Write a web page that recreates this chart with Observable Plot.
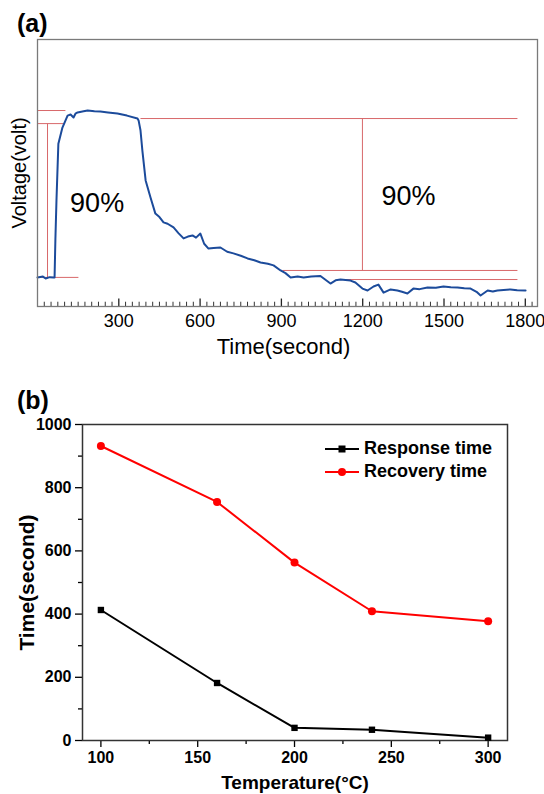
<!DOCTYPE html>
<html><head><meta charset="utf-8">
<script src="https://cdn.jsdelivr.net/npm/d3@7"></script>
<script src="https://cdn.jsdelivr.net/npm/@observablehq/plot@0.6"></script>
<style>
body{margin:0;background:#fff;font-family:"Liberation Sans",Arial,sans-serif;}
#fig{position:relative;width:544px;height:794px;overflow:hidden;background:#fff;}
.panel{position:absolute;left:0;}
.tag{position:absolute;font-weight:bold;font-size:25px;line-height:25px;color:#000;}
#legend{position:absolute;left:325px;top:437px;font-weight:bold;font-size:18px;color:#000;}
#legend .row{display:flex;align-items:center;height:23px;}
#legend svg{display:block;margin-right:5px;}
</style></head><body>
<div id="fig">
  <div id="pa" class="panel" style="top:0px"></div>
  <div id="pb" class="panel" style="top:380px"></div>
  <div class="tag" style="left:17px;top:11px">(a)</div>
  <div class="tag" style="left:17px;top:388px">(b)</div>
  <div id="legend"></div>
</div>
<script>
// ---------- Panel (a): voltage transient ----------
const timeS = [0,20,30,45,59,63,66,70,77,92,111,122,133,140,148,170,185,210,232,260,295,330,369,373,380,387,399,417,435,450,465,480,502,520,539,555,572,585,601,615,631,650,675,700,723,750,775,800,823,850,871,897,915,934,960,982,1010,1044,1081,1100,1118,1155,1173,1199,1218,1240,1258,1277,1303,1328,1345,1365,1387,1410,1439,1470,1498,1525,1550,1575,1598,1620,1635,1661,1680,1697,1720,1745,1770,1801];
const voltV = [0.109,0.112,0.105,0.110,0.109,0.109,0.250,0.397,0.610,0.670,0.715,0.719,0.708,0.722,0.727,0.731,0.734,0.731,0.730,0.727,0.723,0.715,0.704,0.697,0.660,0.584,0.472,0.408,0.348,0.335,0.315,0.310,0.296,0.275,0.255,0.262,0.266,0.258,0.273,0.235,0.217,0.219,0.221,0.205,0.199,0.190,0.180,0.173,0.165,0.160,0.154,0.135,0.125,0.109,0.112,0.109,0.112,0.114,0.086,0.098,0.101,0.097,0.090,0.067,0.060,0.075,0.082,0.052,0.064,0.060,0.055,0.049,0.067,0.065,0.071,0.070,0.075,0.072,0.071,0.068,0.067,0.055,0.041,0.060,0.056,0.060,0.062,0.064,0.061,0.060];
const xTicksA = [300,600,900,1200,1500,1800];
const pctLabelT = [220,1369];
const pctLabelV = [0.388,0.412];
const pctText = ["90%","90%"];
// 90% reference guide segments (start/end in time and voltage)
const refX1 = [0,0,37,0,380,1199,904,1137];
const refX2 = [103,96,37,151,1771,1199,1771,1771];
const refY1 = [0.734,0.685,0.685,0.109,0.704,0.704,0.135,0.101];
const refY2 = [0.734,0.685,0.109,0.109,0.704,0.135,0.135,0.101];

const curve = timeS.map((t,i)=>({t, v: voltV[i]}));
const refs = refX1.map((x1,i)=>({x1, x2: refX2[i], y1: refY1[i], y2: refY2[i]}));
const pct = pctLabelT.map((t,i)=>({t, v: pctLabelV[i], label: pctText[i]}));
const minorA = d3.range(25, 1845, 25).filter(d => d % 300 !== 0);
const plainFmt = d => String(d);

const pa = Plot.plot({
  width: 544, height: 365,
  marginLeft: 37, marginRight: 7, marginTop: 39, marginBottom: 59,
  x: {domain: [0, 1845], axis: null},
  y: {domain: [0, 1], axis: null},
  style: {fontFamily: "'Liberation Sans', Arial, sans-serif", background: "transparent", color: "#000"},
  marks: [
    Plot.link(refs, {x1: "x1", y1: "y1", x2: "x2", y2: "y2", stroke: "#d8686a", strokeWidth: 1}),
    Plot.line(curve, {x: "t", y: "v", stroke: "#1c4b9b", strokeWidth: 2}),
    Plot.ruleX(minorA, {y1: 0, y2: 0.016, stroke: "#333", strokeWidth: 1}),
    Plot.ruleX(xTicksA, {y1: 0, y2: 0.028, stroke: "#222", strokeWidth: 1.3}),
    Plot.frame({stroke: "#7a7a7a", strokeWidth: 1.3}),
    Plot.axisX(xTicksA, {tickSize: 0, tickPadding: 8, fontSize: 18, label: null, tickFormat: plainFmt}),
    Plot.text(pct, {x: "t", y: "v", text: "label", fontSize: 27}),
    Plot.text(["Voltage(volt)"], {frameAnchor: "left", dx: -18, rotate: -90, fontSize: 20, textAnchor: "middle", lineAnchor: "middle"}),
    Plot.text(["Time(second)"], {frameAnchor: "bottom", dy: 40, dx: -4, fontSize: 22, textAnchor: "middle", lineAnchor: "middle"})
  ]
});
document.getElementById("pa").appendChild(pa);

// ---------- Panel (b): response / recovery time ----------
const temps = [100,160,200,240,300];
const responseTime = [413,182,40,34,9];
const recoveryTime = [932,755,563,409,377];
const xMajorB = [100,150,200,250,300];
const xMinorB = [125,175,225,275];
const yMajorB = [0,200,400,600,800,1000];
const yMinorB = [100,300,500,700,900];
const seriesNames = ["Response time","Recovery time"];

const resp = temps.map((t,i)=>({t, y: responseTime[i]}));
const rec = temps.map((t,i)=>({t, y: recoveryTime[i]}));

const pb = Plot.plot({
  width: 544, height: 414,
  marginLeft: 82, marginRight: 37, marginTop: 44, marginBottom: 54,
  x: {domain: [90.5, 310], axis: null},
  y: {domain: [0, 1000], axis: null},
  style: {fontFamily: "'Liberation Sans', Arial, sans-serif", fontWeight: "bold", background: "transparent", color: "#000"},
  marks: [
    Plot.axisX(xMajorB, {tickSize: 7, tickPadding: 4, fontSize: 16, label: null, strokeWidth: 1.3, tickFormat: plainFmt}),
    Plot.axisX(xMinorB, {tickSize: 4, fill: "none", label: null, strokeWidth: 1.3}),
    Plot.axisY(yMajorB, {tickSize: 7, tickPadding: 4, fontSize: 16, label: null, strokeWidth: 1.3, tickFormat: plainFmt}),
    Plot.axisY(yMinorB, {tickSize: 4, fill: "none", label: null, strokeWidth: 1.3}),
    Plot.frame({stroke: "#333", strokeWidth: 1.5}),
    Plot.line(resp, {x: "t", y: "y", stroke: "#000", strokeWidth: 2}),
    Plot.dot(resp, {x: "t", y: "y", symbol: "square", r: 3.6, fill: "#000"}),
    Plot.line(rec, {x: "t", y: "y", stroke: "#ff0000", strokeWidth: 2}),
    Plot.dot(rec, {x: "t", y: "y", symbol: "circle", r: 4, fill: "#ff0000"}),
    Plot.text(["Time(second)"], {frameAnchor: "left", dx: -55, rotate: -90, fontSize: 21, textAnchor: "middle", lineAnchor: "middle"}),
    Plot.text(["Temperature(°C)"], {frameAnchor: "bottom", dy: 42, fontSize: 19, textAnchor: "middle", lineAnchor: "middle"})
  ]
});
document.getElementById("pb").appendChild(pb);

// legend
const legendColors = ["#000","#ff0000"];
const legendSymbols = ["square","circle"];
const leg = document.getElementById("legend");
seriesNames.forEach((name,i)=>{
  const row = document.createElement("div");
  row.className = "row";
  const c = legendColors[i];
  const marker = legendSymbols[i] === "square"
    ? `<rect x="13.5" y="2.5" width="7" height="7" fill="${c}"/>`
    : `<circle cx="17" cy="6" r="4" fill="${c}"/>`;
  row.innerHTML = `<svg width="34" height="12"><line x1="0" x2="34" y1="6" y2="6" stroke="${c}" stroke-width="2"/>${marker}</svg><span>${name}</span>`;
  leg.appendChild(row);
});
</script>
</body></html>
